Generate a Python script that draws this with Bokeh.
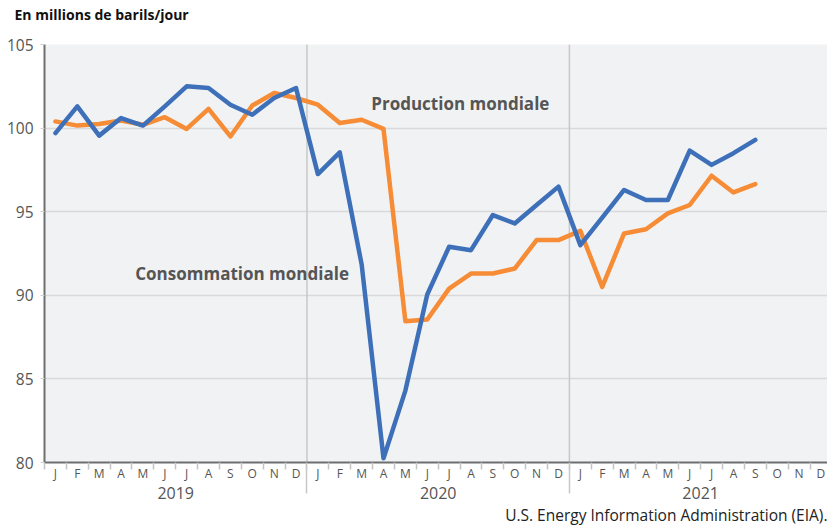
from bokeh.plotting import figure
from bokeh.models import Range1d, FixedTicker, LinearAxis, Label, Span, Title
from bokeh.embed import file_html
from bokeh.resources import INLINE

months = ["J", "F", "M", "A", "M", "J", "J", "A", "S", "O", "N", "D"]
years = ["2019", "2020", "2021"]
y_ticks = [80, 85, 90, 95, 100, 105]

# Consommation mondiale (Jan 2019 - Sep 2021)
consommation = [99.7, 101.3, 99.55, 100.6, 100.15, 101.3, 102.5, 102.4, 101.4, 100.8, 101.8, 102.4,
                97.25, 98.55, 91.85, 80.25, 84.3, 90.05, 92.9, 92.7, 94.8, 94.3, 95.4, 96.5,
                93.0, 94.65, 96.3, 95.7, 95.7, 98.65, 97.8, 98.5, 99.3]
# Production mondiale
production = [100.4, 100.15, 100.25, 100.45, 100.2, 100.65, 99.95, 101.15, 99.5, 101.35, 102.1, 101.8,
              101.4, 100.3, 100.5, 99.95, 88.45, 88.55, 90.4, 91.3, 91.3, 91.6, 93.3, 93.3,
              93.85, 90.5, 93.7, 93.95, 94.9, 95.4, 97.15, 96.15, 96.65]

n_total = len(months) * len(years)
xs = list(range(len(consommation)))

GRAY_TXT = "#555555"
DIV_COLOR = "#c8c8c8"
FONT = "Open Sans"

p = figure(width=827, height=530, output_backend="svg", toolbar_location=None,
           x_range=Range1d(-0.5, n_total - 0.7), y_range=Range1d(y_ticks[0], y_ticks[-1]),
           x_axis_type=None, min_border_left=44, min_border_right=0,
           min_border_top=42, min_border_bottom=68)
p.extra_x_ranges = {"years": Range1d(0, n_total - 0.2)}
p.outline_line_color = None
p.background_fill_color = "#f1f2f4"
p.border_fill_color = "white"

# unit title (second, blank line keeps it away from the plot)
p.title.text = "En millions de barils/jour\n "
p.title.text_font = FONT
p.title.text_font_size = "14px"
p.title.text_font_style = "bold"
p.title.text_color = "#111111"
p.title.align = "left"
p.title.vertical_align = "bottom"
p.title.standoff = 4
p.title.offset = -30

# y axis
p.yaxis.ticker = FixedTicker(ticks=y_ticks)
p.yaxis.axis_line_color = "#6e6e6e"
p.yaxis.axis_line_width = 2
p.yaxis.major_tick_out = 4
p.yaxis.major_tick_in = 0
p.yaxis.major_tick_line_color = "#d0d0d0"
p.yaxis.minor_tick_line_color = None
p.yaxis.major_label_text_font = FONT
p.yaxis.major_label_text_font_size = "15.5px"
p.yaxis.major_label_text_color = GRAY_TXT
p.yaxis.major_label_standoff = 7
p.ygrid.ticker = FixedTicker(ticks=y_ticks)
p.ygrid.grid_line_color = "#d9d9db"
p.ygrid.grid_line_width = 1.5

# month axis
month_axis = LinearAxis(
    ticker=FixedTicker(ticks=list(range(n_total)), minor_ticks=[i - 0.5 for i in range(n_total + 1)]),
    major_label_overrides={i: months[i % len(months)] for i in range(n_total)})
month_axis.axis_line_color = "#6e6e6e"
month_axis.axis_line_width = 2
month_axis.major_tick_line_color = None
month_axis.major_tick_out = 0
month_axis.major_tick_in = 0
month_axis.minor_tick_out = 7
month_axis.minor_tick_in = 0
month_axis.minor_tick_line_color = "#c4c4c4"
month_axis.minor_tick_line_width = 1.5
month_axis.major_label_text_font = FONT
month_axis.major_label_text_font_size = "12px"
month_axis.major_label_text_color = GRAY_TXT
month_axis.major_label_standoff = -5
p.add_layout(month_axis, "below")

# year axis (labels at mid-year, year dividers as minor ticks)
year_pos = [len(months) * k + len(months) // 2 for k in range(len(years))]
year_div = [len(months) * k for k in range(1, len(years))]
year_axis = LinearAxis(x_range_name="years", ticker=FixedTicker(ticks=year_pos, minor_ticks=year_div),
                       major_label_overrides={pos: y for pos, y in zip(year_pos, years)})
year_axis.axis_line_color = None
year_axis.major_tick_line_color = None
year_axis.major_tick_out = 0
year_axis.major_tick_in = 0
year_axis.minor_tick_line_color = DIV_COLOR
year_axis.minor_tick_line_width = 1.5
year_axis.minor_tick_in = 19
year_axis.minor_tick_out = 9
year_axis.major_label_text_font = FONT
year_axis.major_label_text_font_size = "16px"
year_axis.major_label_text_color = GRAY_TXT
year_axis.major_label_standoff = -7
p.add_layout(year_axis, "below")

# year dividers inside the plot
for xd in year_div:
    p.add_layout(Span(location=xd, dimension="height", x_range_name="years",
                      line_color=DIV_COLOR, line_width=1.5, level="underlay"))

p.line(xs, production, line_color="#f68c35", line_width=4.5, line_join="round", line_cap="round")
p.line(xs, consommation, line_color="#3d70b8", line_width=4.5, line_join="round", line_cap="round")

p.add_layout(Label(x=3.65, y=91.3, text="Consommation mondiale", text_font=FONT,
                   text_font_size="17px", text_font_style="bold", text_color=GRAY_TXT,
                   text_baseline="middle"))
p.add_layout(Label(x=14.44, y=101.5, text="Production mondiale", text_font=FONT,
                   text_font_size="17px", text_font_style="bold", text_color=GRAY_TXT,
                   text_baseline="middle"))

src = Title(text="U.S. Energy Information Administration (EIA).", align="right", standoff=0,
            text_font=FONT, text_font_size="15.5px", text_font_style="normal",
            text_color="#222222")
p.add_layout(src, "below")

open("out.html", "w").write(file_html(p, INLINE))
